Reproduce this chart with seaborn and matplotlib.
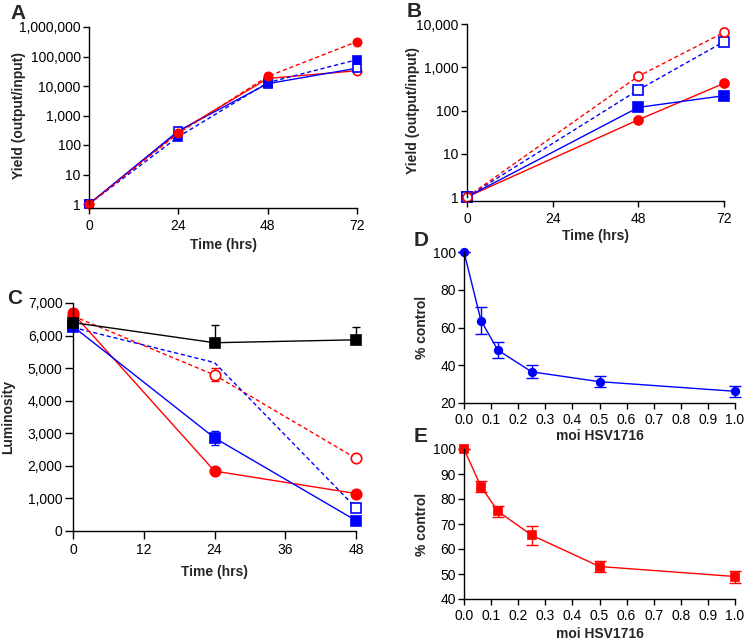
import numpy as np
import pandas as pd
import matplotlib
matplotlib.use("Agg")
import matplotlib.pyplot as plt
from matplotlib.ticker import FuncFormatter, FixedLocator, NullLocator
import seaborn as sns

sns.set_style("ticks")
plt.rcParams['font.family'] = ['Liberation Sans', 'DejaVu Sans']

RED = "#FF0000"
BLUE = "#0000FF"

# ---------------- Data ----------------
# Panel A
time_a = [0, 24, 48, 72]
a_red_dash = [1, 250, 21000, 320000]     # filled circle, dashed
a_blue_dash = [1, 190, 13000, 78000]     # filled square, dashed
a_red_solid = [1, 280, 18000, 33000]     # open circle, solid
a_blue_solid = [1, 300, 12000, 40000]    # open square, solid
a_yticks = [1, 10, 100, 1000, 10000, 100000, 1000000]

# Panel B
time_b = [0, 48, 72]
b_red_dash = [1, 620, 6400]      # open circle, dashed
b_blue_dash = [1, 300, 3900]     # open square, dashed
b_red_solid = [1, 61, 425]       # filled circle, solid
b_blue_solid = [1, 118, 220]     # filled square, solid
b_yticks = [1, 10, 100, 1000, 10000]

# Panel C
time_c = [0, 24, 48]
c_black = [6400, 5780, 5870]
c_black_err_up = [0, 550, 400]
c_red_dash = [6600, 4790, 2230]
c_red_dash_err = [0, 200, 0]
c_blue_dash = [6250, 5170, 710]
c_red_solid = [6680, 1840, 1150]
c_red_solid_err = [150, 0, 0]
c_blue_solid = [6280, 2860, 320]
c_blue_solid_err = [0, 220, 0]

# Panels D and E
moi = [0.0, 0.0625, 0.125, 0.25, 0.5, 1.0]
d_mean = [100, 63.7, 48.0, 36.5, 31.3, 26.2]
d_err = [0, 7.0, 4.4, 3.4, 3.0, 2.9]
e_mean = [100, 85.0, 75.1, 65.5, 53.0, 49.0]
e_err = [0, 2.2, 2.3, 3.7, 2.2, 2.4]

W, H = 745, 641
fig = plt.figure(figsize=(W / 100, H / 100), dpi=100)

def axes_px(left, top, right, bottom):
    return fig.add_axes([left / W, 1 - bottom / H, (right - left) / W, (bottom - top) / H])

TICK_FS = 10
LAB_FS = 10
LW = 1.0

def style(ax, ticklen=4.5):
    sns.despine(ax=ax)
    ax.tick_params(direction='out', length=ticklen, width=1, labelsize=TICK_FS, colors='black')
    ax.tick_params(axis='y', pad=1.5)
    ax.tick_params(axis='x', pad=3)
    for s in ['left', 'bottom']:
        ax.spines[s].set_linewidth(1)
        ax.spines[s].set_color('black')

def labels(ax, xlab, ylab, ylab_x_px, xlab_y_px, left, top, right, bottom):
    w = right - left
    h = bottom - top
    ax.set_xlabel(xlab, fontsize=LAB_FS, fontweight='bold')
    ax.set_ylabel(ylab, fontsize=LAB_FS, fontweight='bold')
    ax.yaxis.label.set_va('center'); ax.yaxis.label.set_ha('center')
    ax.xaxis.label.set_va('center'); ax.xaxis.label.set_ha('center')
    ax.yaxis.set_label_coords((ylab_x_px - left) / w, 0.5)
    ax.xaxis.set_label_coords(0.5, (bottom - xlab_y_px) / h)

def line(ax, x, y, color, ls, marker, filled, ms, **kw):
    sns.lineplot(x=x, y=y, ax=ax, color=color, linestyle=ls, linewidth=LW,
                 marker=marker, markersize=ms,
                 markerfacecolor=(color if filled else 'white'),
                 markeredgecolor=color, markeredgewidth=1.2,
                 clip_on=False, legend=False, **kw)

comma = FuncFormatter(lambda v, p: f"{int(round(v)):,}")

# ---------------- Panel A ----------------
bA = (89, 27, 357, 204)
axA = axes_px(*bA)
axA.set_yscale('log')
line(axA, time_a, a_red_solid, RED, '-', 'o', False, 6)
line(axA, time_a, a_blue_solid, BLUE, '-', 's', False, 6)
line(axA, time_a, a_blue_dash, BLUE, (0, (3, 2)), 's', True, 6)
line(axA, time_a, a_red_dash, RED, (0, (3, 2)), 'o', True, 6)
axA.set_ylim(1, 1e6)
axA.set_xlim(0, 72)
axA.yaxis.set_major_locator(FixedLocator(a_yticks))
axA.yaxis.set_minor_locator(NullLocator())
axA.yaxis.set_major_formatter(comma)
axA.set_xticks([0, 24, 48, 72])
style(axA)
axA.spines['bottom'].set_position(('outward', 3))
labels(axA, "Time (hrs)", "Yield (output/input)", 19, 245, *bA)

# ---------------- Panel B ----------------
bB = (467, 24, 724, 197)
axB = axes_px(*bB)
axB.set_yscale('log')
line(axB, time_b, b_red_solid, RED, '-', 'o', True, 6.5)
line(axB, time_b, b_blue_solid, BLUE, '-', 's', True, 6.5)
line(axB, time_b, b_blue_dash, BLUE, (0, (3, 2)), 's', False, 6.5)
line(axB, time_b, b_red_dash, RED, (0, (3, 2)), 'o', False, 6.5)
axB.set_ylim(1, 1e4)
axB.set_xlim(0, 72)
axB.yaxis.set_major_locator(FixedLocator(b_yticks))
axB.yaxis.set_minor_locator(NullLocator())
axB.yaxis.set_major_formatter(comma)
axB.set_xticks([0, 24, 48, 72])
style(axB)
axB.spines['bottom'].set_position(('outward', 3))
labels(axB, "Time (hrs)", "Yield (output/input)", 413, 236, *bB)

# ---------------- Panel C ----------------
bC = (73, 303, 356, 531)
axC = axes_px(*bC)
cap = 3
axC.errorbar(time_c, c_black, yerr=[[0, 0, 0], c_black_err_up], fmt='none',
             ecolor='black', elinewidth=1, capsize=cap, clip_on=False)
axC.errorbar(time_c, c_red_dash, yerr=c_red_dash_err, fmt='none',
             ecolor=RED, elinewidth=1, capsize=cap, clip_on=False)
axC.errorbar(time_c, c_red_solid, yerr=c_red_solid_err, fmt='none',
             ecolor=RED, elinewidth=1, capsize=cap, clip_on=False)
axC.errorbar(time_c, c_blue_solid, yerr=c_blue_solid_err, fmt='none',
             ecolor=BLUE, elinewidth=1, capsize=cap, clip_on=False)
line(axC, time_c, c_red_dash, RED, (0, (3, 2)), 'o', False, 7.5)
line(axC, time_c, c_blue_dash, BLUE, (0, (3, 2)), 's', False, 7, markevery=[0, 2])
line(axC, time_c, c_red_solid, RED, '-', 'o', True, 7.5)
line(axC, time_c, c_blue_solid, BLUE, '-', 's', True, 7)
line(axC, time_c, c_black, 'black', '-', 's', True, 7.5)
axC.set_xlim(0, 48)
axC.set_ylim(0, 7000)
axC.set_xticks([0, 12, 24, 36, 48])
axC.set_yticks(range(0, 7001, 1000))
axC.yaxis.set_major_formatter(comma)
style(axC, ticklen=6)
labels(axC, "Time (hrs)", "Luminosity", 8, 572, *bC)

# ---------------- Panel D ----------------
bD = (464, 252, 735, 403)
axD = axes_px(*bD)
axD.errorbar(moi, d_mean, yerr=d_err, fmt='none', ecolor=BLUE, elinewidth=1,
             capsize=4, clip_on=False)
line(axD, moi, d_mean, BLUE, '-', 'o', True, 5.5)
axD.set_xlim(0, 1.0)
axD.set_ylim(20, 100)
axD.set_xticks(np.arange(0, 1.01, 0.1))
axD.xaxis.set_major_formatter(FuncFormatter(lambda v, p: f"{v:.1f}"))
axD.set_yticks([20, 40, 60, 80, 100])
style(axD)
labels(axD, "moi HSV1716", "% control", 422, 436, *bD)

# ---------------- Panel E ----------------
bE = (464, 449, 735, 599)
axE = axes_px(*bE)
axE.errorbar(moi, e_mean, yerr=e_err, fmt='none', ecolor=RED, elinewidth=1,
             capsize=4, clip_on=False)
line(axE, moi, e_mean, RED, '-', 's', True, 5.5)
axE.set_xlim(0, 1.0)
axE.set_ylim(40, 100)
axE.set_xticks(np.arange(0, 1.01, 0.1))
axE.xaxis.set_major_formatter(FuncFormatter(lambda v, p: f"{v:.1f}"))
axE.set_yticks(range(40, 101, 10))
style(axE)
labels(axE, "moi HSV1716", "% control", 422, 634, *bE)

# ---------------- Panel letters ----------------
for lab, x, y in [("A", 10, 4), ("B", 407, 2), ("C", 7, 289), ("D", 414, 231), ("E", 414, 427)]:
    fig.text(x / W, 1 - y / H, lab, fontsize=15, fontweight='bold', ha='left', va='top')

fig.savefig("out.png", dpi=100)
